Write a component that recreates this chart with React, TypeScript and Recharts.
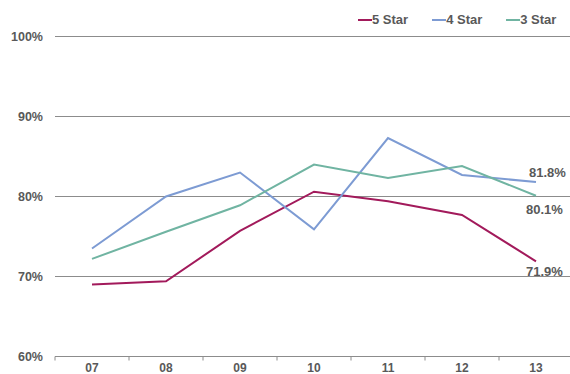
import { LineChart, Line, XAxis, YAxis, CartesianGrid, Legend, LabelList } from "recharts";

// review scores by year, percent
const years = ["07", "08", "09", "10", "11", "12", "13"];
const fiveStar = [69.0, 69.4, 75.7, 80.6, 79.4, 77.7, 71.9];
const fourStar = [73.5, 80.0, 83.0, 75.9, 87.3, 82.7, 81.8];
const threeStar = [72.2, 75.6, 78.9, 84.0, 82.3, 83.8, 80.1];
const yTicks = [60, 70, 80, 90, 100];
const seriesOrder = ["five", "four", "three"];

const data = years.map((year, i) => ({
  year,
  five: fiveStar[i],
  four: fourStar[i],
  three: threeStar[i],
}));

const CHART_W = 573;
const CHART_H = 374;
const Y_AXIS_W = 55;
const PLOT_W = CHART_W - Y_AXIS_W;
const BAND = PLOT_W / years.length;

const FONT = '"Liberation Sans", Arial, Helvetica, sans-serif';
const TEXT = "#595959";
const GRID = "#8c8c8c";

const COLORS = { five: "#a21a5b", four: "#7d9bd3", three: "#70b4a2" };

// end-of-line value label offsets, per series
const END_OFFSET: Record<string, { dx: number; dy: number }> = {
  five: { dx: -10, dy: 10 },
  four: { dx: -7, dy: -10 },
  three: { dx: -10, dy: 13.5 },
};

function YearTick(props: any) {
  const { x, y, payload, index } = props;
  const last = index === years.length - 1;
  return (
    <g>
      <line x1={x - BAND / 2} x2={x - BAND / 2} y1={y} y2={y + 4} stroke={GRID} />
      {last && <line x1={x + BAND / 2} x2={x + BAND / 2} y1={y} y2={y + 4} stroke={GRID} />}
      <text
        x={x}
        y={y + 15}
        textAnchor="middle"
        fill={TEXT}
        fontFamily={FONT}
        fontWeight="bold"
        fontSize={12}
      >
        {payload.value}
      </text>
    </g>
  );
}

function endLabel(key: string) {
  return (props: any) => {
    const { x, y, value, index } = props;
    if (index !== years.length - 1) return null;
    const off = END_OFFSET[key];
    return (
      <text
        x={x + off.dx}
        y={y + off.dy}
        dominantBaseline="central"
        fill={TEXT}
        fontFamily={FONT}
        fontWeight="bold"
        fontSize={13}
      >
        {`${value.toFixed(1)}%`}
      </text>
    );
  };
}

function LegendRow(props: any) {
  const items = [...(props.payload || [])].sort(
    (a: any, b: any) => seriesOrder.indexOf(a.dataKey) - seriesOrder.indexOf(b.dataKey)
  );
  return (
    <div style={{ display: "flex", alignItems: "center", whiteSpace: "nowrap", fontFamily: FONT }}>
      {items.map((item: any) => (
        <div key={item.value} style={{ display: "flex", alignItems: "center", marginRight: 24 }}>
          <span style={{ display: "inline-block", width: 14, height: 2, background: item.color }} />
          <span style={{ color: TEXT, fontWeight: "bold", fontSize: 13, lineHeight: "16px" }}>
            {item.value}
          </span>
        </div>
      ))}
    </div>
  );
}

export default function App() {
  return (
    <div
      style={{
        position: "absolute",
        left: 0,
        top: 0,
        width: 570,
        height: CHART_H,
        overflow: "hidden",
        background: "#fff",
        fontFamily: FONT,
      }}
    >
      <LineChart
        width={CHART_W}
        height={CHART_H}
        data={data}
        margin={{ top: 36.5, right: 0, bottom: 0, left: 0 }}
      >
        <CartesianGrid horizontal vertical={false} stroke={GRID} strokeWidth={1.2} />
        <XAxis
          dataKey="year"
          height={CHART_H - 36.5 - 320}
          padding={{ left: BAND / 2, right: BAND / 2 }}
          axisLine={{ stroke: GRID, strokeWidth: 1.2 }}
          tickLine={false}
          tickSize={0}
          tickMargin={0}
          interval={0}
          tick={<YearTick />}
        />
        <YAxis
          width={Y_AXIS_W}
          domain={[60, 100]}
          ticks={yTicks}
          axisLine={false}
          tickLine={false}
          tickSize={0}
          tickMargin={12}
          tickFormatter={(v: number) => `${v}%`}
          tick={{ fill: TEXT, fontSize: 12.5, fontWeight: "bold", fontFamily: FONT }}
        />
        <Legend
          layout="horizontal"
          verticalAlign="middle"
          align="center"
          wrapperStyle={{ top: 12, left: 358, width: 215 }}
          content={<LegendRow />}
        />
        <Line
          dataKey="five"
          name="5 Star"
          type="linear"
          stroke={COLORS.five}
          strokeWidth={2}
          dot={false}
          isAnimationActive={false}
        >
          <LabelList dataKey="five" content={endLabel("five")} />
        </Line>
        <Line
          dataKey="four"
          name="4 Star"
          type="linear"
          stroke={COLORS.four}
          strokeWidth={2}
          dot={false}
          isAnimationActive={false}
        >
          <LabelList dataKey="four" content={endLabel("four")} />
        </Line>
        <Line
          dataKey="three"
          name="3 Star"
          type="linear"
          stroke={COLORS.three}
          strokeWidth={2}
          dot={false}
          isAnimationActive={false}
        >
          <LabelList dataKey="three" content={endLabel("three")} />
        </Line>
      </LineChart>
    </div>
  );
}
